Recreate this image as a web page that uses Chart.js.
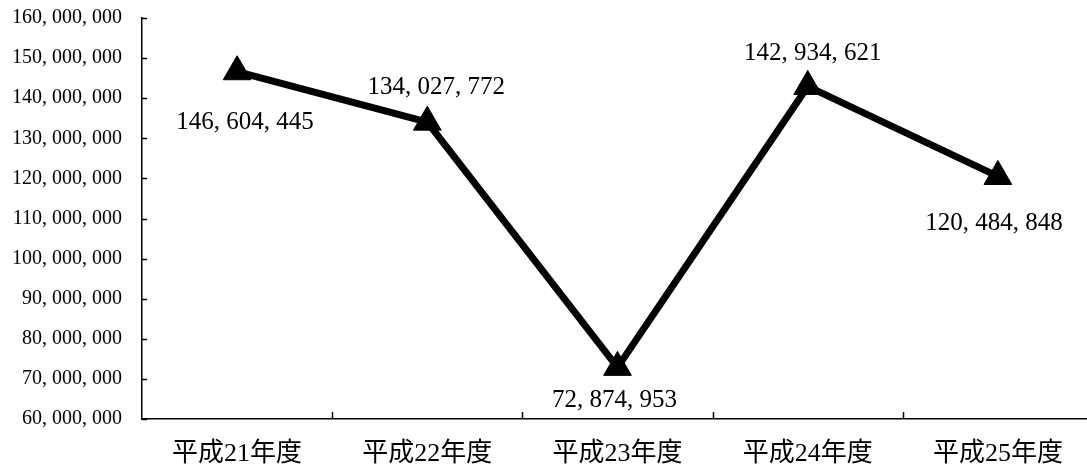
<!DOCTYPE html>
<html>
<head>
<meta charset="utf-8">
<script src="https://cdn.jsdelivr.net/npm/chart.js@4/dist/chart.umd.min.js"></script>
<style>
  html, body { margin: 0; padding: 0; background: #fff; overflow: hidden; }
  canvas { display: block; }
</style>
</head>
<body>
<canvas id="myChart" width="1110" height="465"></canvas>
<script>
var years = ["平成21年度", "平成22年度", "平成23年度", "平成24年度", "平成25年度"];
var amounts = [146604445, 134027772, 72874953, 142934621, 120484848];
var yMin = 60000000;
var yMax = 160000000;
var yStep = 10000000;

// where each value label sits relative to its point (px)
var labelOffsets = [[8, 51], [9, -35], [-3, 33], [5, -33], [-4, 47]];

var serif = '"Liberation Serif", "Noto Sans CJK JP", serif';

function fmt(v) {
    return Number(v).toLocaleString('en-US').replace(/,/g, ', ');
}

// inward tick marks on both axes + value labels
var decorations = {
    id: 'decorations',
    afterDatasetsDraw: function(chart) {
        var c = chart.ctx;
        var area = chart.chartArea;
        var x = chart.scales.x;
        var y = chart.scales.y;

        c.save();
        c.strokeStyle = '#000';
        c.lineWidth = 1.5;
        c.beginPath();
        y.ticks.forEach(function(t) {
            var py = Math.round(y.getPixelForValue(t.value)) + 0.5;
            c.moveTo(area.left, py);
            c.lineTo(area.left + 5, py);
        });
        var half = (x.getPixelForValue(1) - x.getPixelForValue(0)) / 2;
        for (var i = 1; i < years.length; i++) {
            var px = Math.round(x.getPixelForValue(i) - half) + 0.5;
            c.moveTo(px, area.bottom);
            c.lineTo(px, area.bottom - 7);
        }
        c.stroke();

        var meta = chart.getDatasetMeta(0);
        c.fillStyle = '#000';
        c.font = '25px ' + serif;
        c.textAlign = 'center';
        c.textBaseline = 'middle';
        meta.data.forEach(function(pt, i) {
            c.fillText(fmt(amounts[i]), pt.x + labelOffsets[i][0], pt.y + labelOffsets[i][1]);
        });
        c.restore();
    }
};

var ctx = document.getElementById("myChart").getContext('2d');

var myChart = new Chart(ctx, {
    type: 'line',
    data: {
        labels: years,
        datasets: [{
            label: "金額",
            data: amounts,
            borderColor: '#000',
            borderWidth: 7,
            fill: false,
            tension: 0,
            pointStyle: 'triangle',
            pointRadius: 16,
            pointHoverRadius: 16,
            pointBackgroundColor: '#000',
            pointBorderColor: '#000',
            pointBorderWidth: 1
        }]
    },
    options: {
        responsive: false,
        animation: false,
        layout: { padding: { top: 18, right: 8, left: 0, bottom: 0 } },
        plugins: {
            legend: { display: false },
            tooltip: { enabled: false }
        },
        scales: {
            x: {
                offset: true,
                grid: { display: false, drawTicks: false },
                border: { display: true, color: '#000', width: 1.5 },
                ticks: {
                    color: '#000',
                    padding: 20,
                    maxRotation: 0,
                    font: { family: serif, size: 26 }
                },
                afterFit: function(s) {
                    s.height = 46;
                    s.paddingLeft = 0;
                    s.paddingRight = 0;
                }
            },
            y: {
                min: yMin,
                max: yMax,
                grid: { display: false, drawTicks: false },
                border: { display: true, color: '#000', width: 1.5 },
                ticks: {
                    stepSize: yStep,
                    color: '#000',
                    padding: 20,
                    font: { family: serif, size: 20 },
                    callback: function(v) { return fmt(v); }
                },
                afterFit: function(s) {
                    s.width = 142;
                    s.paddingTop = 0;
                    s.paddingBottom = 0;
                }
            }
        }
    },
    plugins: [decorations]
});
</script>
</body>
</html>
